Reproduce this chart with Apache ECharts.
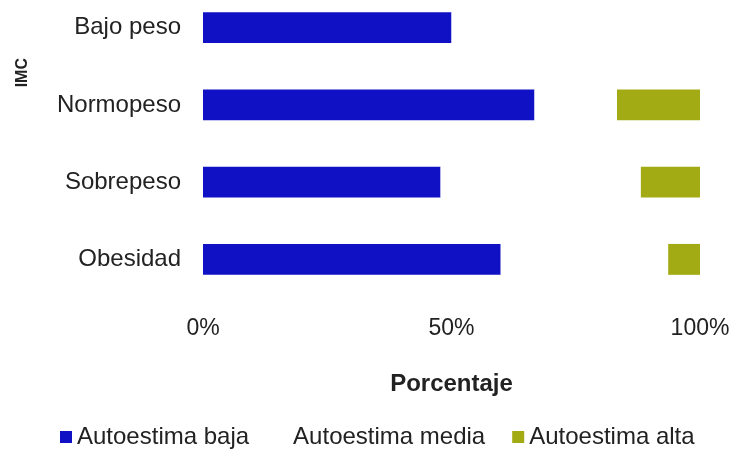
<!DOCTYPE html>
<html>
<head>
<meta charset="utf-8">
<script src="https://cdn.jsdelivr.net/npm/echarts@6/dist/echarts.min.js"></script>
<style>
  html, body { margin: 0; padding: 0; background: #ffffff; }
  #chart { width: 736px; height: 449px; }
</style>
</head>
<body>
<div id="chart"></div>
<script>
// IMC categories, top to bottom
const categories = ['Bajo peso', 'Normopeso', 'Sobrepeso', 'Obesidad'];

// Share of each self-esteem level per IMC group (%)
const autoestimaBaja  = [50.0, 66.7, 47.8, 59.9];
const autoestimaMedia = [50.0, 16.6, 40.3, 33.7];
const autoestimaAlta  = [0.0, 16.7, 11.9, 6.4];

const xTicks = [0, 50, 100];

const FONT = '"Liberation Sans", Arial, sans-serif';
const TEXT = '#222222';

const chart = echarts.init(document.getElementById('chart'), null, { renderer: 'canvas' });

chart.setOption({
  backgroundColor: '#ffffff',
  animation: false,
  textStyle: { fontFamily: FONT, color: TEXT },
  grid: {
    left: 203, right: 36, top: -11, height: 309,
    containLabel: false,
    outerBoundsMode: 'none'
  },
  xAxis: {
    type: 'value',
    min: xTicks[0],
    max: xTicks[xTicks.length - 1],
    interval: xTicks[1] - xTicks[0],
    axisLine: { show: false },
    axisTick: { show: false },
    splitLine: { show: false },
    axisLabel: {
      formatter: v => v + '%',
      fontSize: 23,
      color: TEXT,
      fontFamily: FONT,
      margin: 19
    },
    name: 'Porcentaje',
    nameLocation: 'middle',
    nameGap: 74,
    nameTextStyle: { fontSize: 24, fontWeight: 'bold', color: TEXT, fontFamily: FONT }
  },
  yAxis: {
    type: 'category',
    data: categories,
    inverse: true,
    axisLine: { show: false },
    axisTick: { show: false },
    splitLine: { show: false },
    axisLabel: { fontSize: 24, color: TEXT, fontFamily: FONT, margin: 22 }
  },
  legend: {
    left: 55,
    top: 420,
    icon: 'rect',
    itemWidth: 12,
    itemHeight: 12,
    itemGap: 27,
    textStyle: { fontSize: 24, color: TEXT, fontFamily: FONT },
    data: ['Autoestima baja', 'Autoestima media', 'Autoestima alta']
  },
  graphic: [{
    type: 'text',
    left: 15,
    top: 58,
    rotation: Math.PI / 2,
    style: { text: 'IMC', font: 'bold 16px ' + FONT, fill: TEXT }
  }],
  series: [
    {
      name: 'Autoestima baja',
      type: 'bar',
      stack: 'total',
      barWidth: '40%',
      itemStyle: { color: '#1010c4' },
      data: autoestimaBaja
    },
    {
      name: 'Autoestima media',
      type: 'bar',
      stack: 'total',
      itemStyle: { color: '#ffffff' },
      data: autoestimaMedia
    },
    {
      name: 'Autoestima alta',
      type: 'bar',
      stack: 'total',
      itemStyle: { color: '#a3ab14' },
      data: autoestimaAlta
    }
  ]
});
</script>
</body>
</html>
